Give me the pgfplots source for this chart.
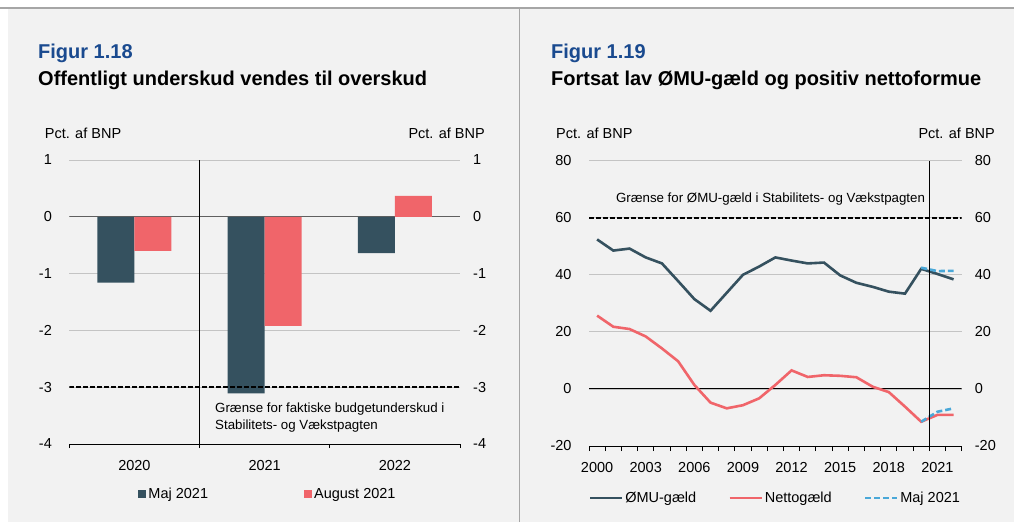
\documentclass[border=0pt]{standalone}
\usepackage{fontspec}
\setmainfont{Liberation Sans}
\usepackage{pgfplots}
\pgfplotsset{compat=1.18}
\definecolor{darkbar}{HTML}{35515F}
\definecolor{pinkbar}{HTML}{F0656A}
\definecolor{lblue}{HTML}{4AA8D8}
\definecolor{titleblue}{HTML}{1A4A8F}
\definecolor{bg}{HTML}{F2F2F2}
\definecolor{gridc}{HTML}{C4C4C4}
\newcommand{\tf}{\fontsize{14.5pt}{16pt}\selectfont}
\newcommand{\af}{\fontsize{13.3pt}{16pt}\selectfont}
\newcommand{\ttl}{\fontsize{20pt}{22pt}\selectfont\bfseries}
\pgfplotsset{
  base/.style={
    scale only axis, anchor=south west,
    axis x line*=bottom, axis y line*=left,
    y axis line style={draw=none},
    x axis line style={black, line width=0.8pt},
    major x tick style={draw=none},
    minor x tick style={black, line width=0.8pt},
    tick align=outside,
    ytick style={draw=none},
    ymajorgrids, major grid style={gridc, line width=0.8pt},
    tick label style={font=\tf},
    yticklabel style={inner sep=0pt, xshift=-13pt},
    xticklabel style={inner sep=0pt, anchor=north, yshift=-12pt},
    legend style={draw=none, fill=none, font=\tf, legend columns=-1,
      anchor=center, nodes={inner sep=2pt}},
  },
  rightlab/.style={
    scale only axis, anchor=south west,
    hide x axis, axis y line*=right,
    y axis line style={draw=none}, ytick style={draw=none},
    tick label style={font=\tf},
    yticklabel style={inner sep=0pt, xshift=13pt},
  }
}
\begin{document}
\begin{tikzpicture}
\fill[white] (0,0) rectangle (1014pt,522pt);
\fill[bg] (8pt,0) rectangle (1014pt,514pt);
\draw[gray!70, line width=1.2pt] (0,514pt) -- (1014pt,514pt);
\draw[gray!70, line width=1.2pt] (519.5pt,0) -- (519.5pt,514pt);

\node[anchor=base west, inner sep=0pt, text=titleblue, font=\ttl] at (38pt,463pt) {Figur 1.18};
\node[anchor=base west, inner sep=0pt, font=\ttl] at (38pt,436pt) {Offentligt underskud vendes til overskud};
\node[anchor=base west, inner sep=0pt, text=titleblue, font=\ttl] at (551pt,463pt) {Figur 1.19};
\node[anchor=base west, inner sep=0pt, font=\ttl] at (551pt,436pt) {Fortsat lav ØMU-gæld og positiv nettoformue};

\node[anchor=base west, inner sep=0pt, font=\tf] at (44.7pt,383pt) {Pct. af BNP};
\node[anchor=base east, inner sep=0pt, font=\tf] at (485pt,383pt) {Pct. af BNP};
\node[anchor=base west, inner sep=0pt, font=\tf] at (556pt,383pt) {Pct. af BNP};
\node[anchor=base east, inner sep=0pt, font=\tf] at (995pt,383pt) {Pct. af BNP};

% ---------- left chart ----------
\begin{axis}[base,
  at={(69.3pt,78pt)}, width=390.7pt, height=284pt,
  xmin=-0.5, xmax=2.5, ymin=-4, ymax=1,
  ybar=0pt, bar width=37pt,
  xtick={0,1,2}, xticklabels={2020,2021,2022},
  minor xtick={-0.5,0.5,1.5,2.5}, minor tick length=4pt,
  ytick={-4,-3,-2,-1,0,1}, yticklabels={-4,-3,-2,-1,0,1},
  legend style={at={(0.5086,-0.176)}, /tikz/every even column/.append style={column sep=94pt}},
  legend image code/.code={\fill[#1,draw=none] (0pt,-4pt) rectangle (8pt,4pt);},
]
\draw[gray!75!black, line width=0.9pt] (axis cs:-0.5,0) -- (axis cs:2.5,0);
\addplot[fill=darkbar, draw=none] coordinates {(0,-1.16) (1,-3.11) (2,-0.64)};
\addplot[fill=pinkbar, draw=none] coordinates {(0,-0.60) (1,-1.92) (2,0.37)};
\draw[black, dash pattern=on 4.5pt off 2.5pt, line width=1.5pt] (axis cs:-0.5,-3) -- (axis cs:2.5,-3);
\draw[black, line width=0.8pt] (axis cs:0.5,-4) -- (axis cs:0.5,1);
\legend{Maj 2021, August 2021}
\end{axis}
\begin{axis}[rightlab,
  at={(69.3pt,78pt)}, width=390.7pt, height=284pt,
  xmin=-0.5, xmax=2.5, ymin=-4, ymax=1,
  ytick={-4,-3,-2,-1,0,1}, yticklabels={-4,-3,-2,-1,0,1},
]
\end{axis}
\node[anchor=base west, inner sep=0pt, font=\af] at (215pt,109pt) {Grænse for faktiske budgetunderskud i};
\node[anchor=base west, inner sep=0pt, font=\af] at (215pt,92.5pt) {Stabilitets- og Vækstpagten};

% ---------- right chart ----------
\begin{axis}[base,
  at={(589pt,76pt)}, width=372.7pt, height=285.3pt,
  xmin=1999.5, xmax=2022.5, ymin=-20, ymax=80,
  xtick={2000,2003,2006,2009,2012,2015,2018,2021},
  xticklabels={2000,2003,2006,2009,2012,2015,2018,2021},
  minor xtick={1999.5,2000.5,2001.5,2002.5,2003.5,2004.5,2005.5,2006.5,2007.5,2008.5,2009.5,2010.5,2011.5,2012.5,2013.5,2014.5,2015.5,2016.5,2017.5,2018.5,2019.5,2020.5,2021.5,2022.5},
  minor tick length=5pt,
  ytick={-20,0,20,40,60,80}, yticklabels={-20,0,20,40,60,80},
  legend style={at={(0.500,-0.182)}, /tikz/every even column/.append style={column sep=30pt}},
  legend image code/.code={\draw[#1] (0pt,0pt) -- (32pt,0pt);},
]
\draw[black, line width=0.9pt] (axis cs:1999.5,0) -- (axis cs:2022.5,0);
\addplot[darkbar, line width=2.6pt] coordinates {
(2000,52.4) (2001,48.5) (2002,49.2) (2003,46.1) (2004,44.0) (2005,37.8)
(2006,31.5) (2007,27.4) (2008,33.7) (2009,40.0) (2010,42.9) (2011,46.1)
(2012,45.0) (2013,44.0) (2014,44.3) (2015,39.8) (2016,37.2) (2017,35.8)
(2018,34.1) (2019,33.4) (2020,42.1) (2021,40.3) (2022,38.4)};
\addplot[pinkbar, line width=2.6pt] coordinates {
(2000,25.7) (2001,21.8) (2002,21.0) (2003,18.4) (2004,14.2) (2005,9.7)
(2006,1.4) (2007,-4.8) (2008,-6.8) (2009,-5.7) (2010,-3.3) (2011,1.4)
(2012,6.5) (2013,4.2) (2014,4.8) (2015,4.6) (2016,4.1) (2017,0.8)
(2018,-1.1) (2019,-6.2) (2020,-11.5) (2021,-9.1) (2022,-9.1)};
\addplot[lblue, line width=2.6pt, dash pattern=on 6pt off 3pt] coordinates {
(2020,42.5) (2021,41.3) (2022,41.4)};
\addplot[lblue, line width=2.6pt, dash pattern=on 6pt off 3pt, forget plot] coordinates {
(2020,-11.5) (2021,-8.0) (2022,-6.8)};
\draw[black, dash pattern=on 4.5pt off 2.5pt, line width=1.5pt] (axis cs:1999.5,60) -- (axis cs:2022.5,60);
\draw[black, line width=0.8pt] (axis cs:2020.5,-20) -- (axis cs:2020.5,80);
\legend{ØMU-gæld, Nettogæld, Maj 2021}
\end{axis}
\begin{axis}[rightlab,
  at={(589pt,76pt)}, width=372.7pt, height=285.3pt,
  xmin=1999.5, xmax=2022.5, ymin=-20, ymax=80,
  ytick={-20,0,20,40,60,80}, yticklabels={-20,0,20,40,60,80},
]
\end{axis}
\node[anchor=base, inner sep=0pt, font=\af] at (770.5pt,319pt) {Grænse for ØMU-gæld i Stabilitets- og Vækstpagten};

\pgfresetboundingbox
\path[use as bounding box] (0,0) rectangle (1014pt,522pt);
\end{tikzpicture}
\end{document}
